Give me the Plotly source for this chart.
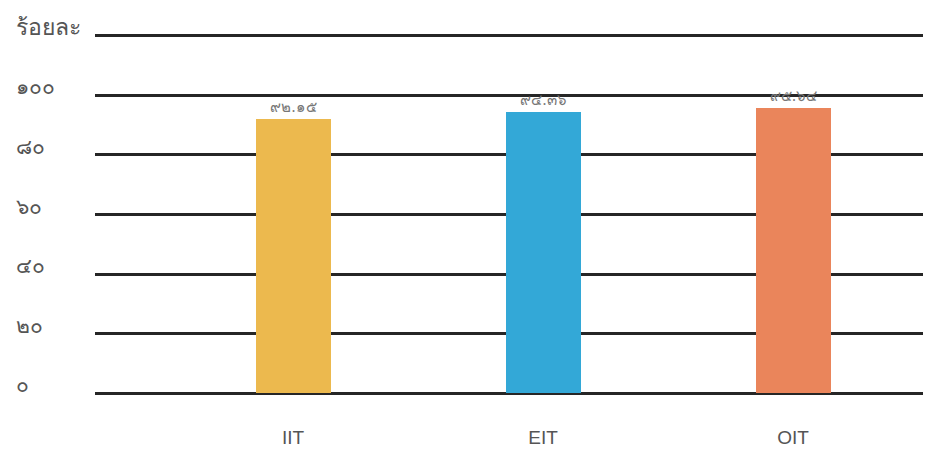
import plotly.graph_objects as go

categories = ["IIT", "EIT", "OIT"]
values = [92.15, 94.36, 95.64]
value_labels = ["๙๒.๑๕", "๙๔.๓๖", "๙๕.๖๔"]
bar_colors = ["#ecb94e", "#33a8d7", "#ea855b"]
tick_values = [0, 20, 40, 60, 80, 100, 120]
tick_labels = ["๐", "๒๐", "๔๐", "๖๐", "๘๐", "๑๐๐", "ร้อยละ"]

fig = go.Figure()
fig.add_trace(go.Bar(
    x=categories, y=values, width=0.3,
    marker=dict(color=bar_colors, line=dict(width=0)),
    text=value_labels, textposition="outside", constraintext="none",
    textfont=dict(size=15, color="#777777", family="Noto Sans, DejaVu Sans, sans-serif"),
    cliponaxis=False,
))

annotations = []
for v, t in zip(tick_values, tick_labels):
    annotations.append(dict(
        x=-0.098, xref="paper", xanchor="left", y=v, yref="y", yanchor="middle",
        yshift=(9 if v < 120 else 10), text=t, showarrow=False,
        font=dict(size=21 if v < 120 else 23, color="#555555",
                  family="Noto Sans, DejaVu Sans, sans-serif"),
    ))

fig.update_layout(
    width=915, height=439,
    margin=dict(l=87, r=0, t=22, b=48),
    paper_bgcolor="white", plot_bgcolor="white",
    showlegend=False,
    bargap=0,
    annotations=annotations,
    xaxis=dict(range=[-0.792, 2.52], showgrid=False, zeroline=False, showline=False,
               ticks="", ticklabelstandoff=25,
               tickfont=dict(size=19, color="#555555", family="Liberation Sans, Arial, sans-serif")),
    yaxis=dict(range=[-2, 122], tickvals=tick_values, showticklabels=False,
               showgrid=True, gridcolor="#262626", gridwidth=3,
               zeroline=False, showline=False, ticks=""),
)

fig.write_html("out.html")
